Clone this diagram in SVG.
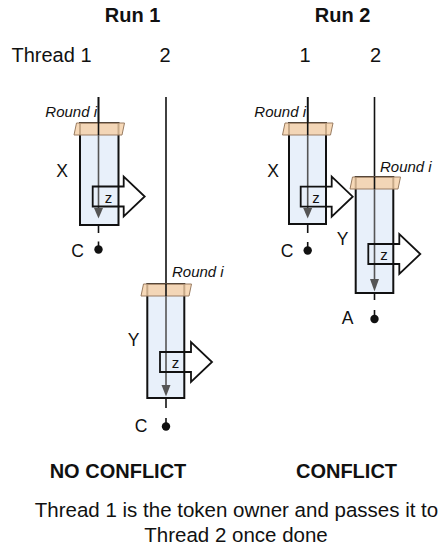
<svg xmlns="http://www.w3.org/2000/svg" width="445" height="548" viewBox="0 0 445 548">
  <style>
    text { font-family: "Liberation Sans", Arial, sans-serif; fill: #111; }
    .head { font-size: 20px; font-weight: bold; text-anchor: middle; }
    .lbl { font-size: 20px; }
    .var { font-size: 17.5px; text-anchor: middle; }
    .round { font-size: 15px; font-style: italic; }
    .zed { font-size: 15px; text-anchor: middle; }
    .note { font-size: 20.5px; text-anchor: middle; }
    .box { fill: #e8f0fa; stroke: #111; stroke-width: 2; }
    .lock { fill: #f5cfa6; fill-opacity: 0.8; stroke: #9a7d62; stroke-width: 1; }
    .thread { stroke: #111; stroke-width: 1.6; fill: none; }
    .inner { stroke: #555; stroke-width: 1.6; fill: none; }
    .tip { fill: #555; }
    .write { fill: none; stroke: #111; stroke-width: 1.8; stroke-linejoin: miter; }
    .end { fill: #111; }
  </style>
  <defs>
    <!-- block arrow for a shared write, origin at shaft left / mid-height -->
    <path id="wr" class="write" d="M0,-10 H31 V-20 L52,0 L31,20 V10 H0 Z"/>
    <!-- round marker sitting on top of a task box, origin at box top centre -->
    <polygon id="lk" class="lock" points="-25,0 -22.5,-12 25.5,-12 23,0"/>
  </defs>

  <!-- headings -->
  <text class="head" x="132.5" y="21.5">Run 1</text>
  <text class="head" x="342.5" y="21.5">Run 2</text>
  <text class="lbl" x="11.5" y="61.5">Thread 1</text>
  <text class="lbl" x="165" y="61.5" text-anchor="middle">2</text>
  <text class="lbl" x="305" y="61.5" text-anchor="middle">1</text>
  <text class="lbl" x="375.5" y="61.5" text-anchor="middle">2</text>

  <!-- thread timelines above each task -->
  <g id="connectors">
    <line class="thread" x1="98.5" y1="97" x2="98.5" y2="135"/>
    <line class="thread" x1="166" y1="97" x2="166" y2="296"/>
    <line class="thread" x1="307.7" y1="97" x2="307.7" y2="135"/>
    <line class="thread" x1="374.5" y1="97" x2="374.5" y2="189"/>
  </g>

  <!-- Run 1, thread 1: task X -->
  <g id="run1-x">
    <rect class="box" x="80" y="123" width="38.5" height="102"/>
    <use href="#lk" x="99" y="135"/>
    <line class="thread" x1="98.5" y1="97" x2="98.5" y2="135"/>
    <line class="inner" x1="98.5" y1="135" x2="98.5" y2="210"/>
    <polygon class="tip" points="94,208 103,208 98.5,218.5"/>
    <use href="#wr" x="92.7" y="196.5"/>
    <text class="zed" x="108.5" y="202.5">z</text>
    <line class="thread" x1="98.5" y1="225" x2="98.5" y2="233"/>
    <line class="thread" x1="98.5" y1="241.5" x2="98.5" y2="249"/>
    <circle class="end" cx="98.5" cy="249.5" r="4.2"/>
    <text class="round" x="97" y="117" text-anchor="end">Round i</text>
    <text class="var" x="62" y="177">X</text>
    <text class="var" x="77.5" y="256.5">C</text>
  </g>

  <!-- Run 1, thread 2: task Y -->
  <g id="run1-y">
    <rect class="box" x="147.3" y="284" width="37" height="114"/>
    <use href="#lk" x="166" y="296"/>
    <line class="thread" x1="166" y1="284" x2="166" y2="296"/>
    <line class="inner" x1="166" y1="296" x2="166" y2="388"/>
    <polygon class="tip" points="161.5,385 170.5,385 166,396.5"/>
    <use href="#wr" x="160" y="362"/>
    <text class="zed" x="175.5" y="368">z</text>
    <line class="thread" x1="166" y1="398" x2="166" y2="408"/>
    <line class="thread" x1="166" y1="418" x2="166" y2="426"/>
    <circle class="end" cx="166" cy="426.5" r="4.2"/>
    <text class="round" x="172" y="276.5">Round i</text>
    <text class="var" x="133.5" y="346">Y</text>
    <text class="var" x="141" y="431.5">C</text>
  </g>

  <!-- Run 2, thread 1: task X -->
  <g id="run2-x">
    <rect class="box" x="289" y="123" width="37" height="101"/>
    <use href="#lk" x="307.5" y="135"/>
    <line class="thread" x1="307.7" y1="97" x2="307.7" y2="135"/>
    <line class="inner" x1="307.7" y1="135" x2="307.7" y2="210"/>
    <polygon class="tip" points="303.2,208 312.2,208 307.7,218.5"/>
    <use href="#wr" x="300.7" y="196.7"/>
    <text class="zed" x="316" y="202.7">z</text>
    <line class="thread" x1="307.7" y1="224" x2="307.7" y2="233"/>
    <line class="thread" x1="307.7" y1="242" x2="307.7" y2="250"/>
    <circle class="end" cx="307.7" cy="250.5" r="4.2"/>
    <text class="round" x="306" y="117" text-anchor="end">Round i</text>
    <text class="var" x="273" y="177">X</text>
    <text class="var" x="287" y="257">C</text>
  </g>

  <!-- Run 2, thread 2: task Y -->
  <g id="run2-y">
    <rect class="box" x="355.7" y="177" width="37.6" height="116"/>
    <use href="#lk" x="375" y="189"/>
    <line class="thread" x1="374.5" y1="177" x2="374.5" y2="189"/>
    <line class="inner" x1="374.5" y1="189" x2="374.5" y2="282"/>
    <polygon class="tip" points="370,279 379,279 374.5,291.5"/>
    <use href="#wr" x="368.3" y="254"/>
    <text class="zed" x="384" y="260">z</text>
    <line class="thread" x1="374.5" y1="293" x2="374.5" y2="300"/>
    <line class="thread" x1="374.5" y1="310" x2="374.5" y2="318.5"/>
    <circle class="end" cx="374.5" cy="319" r="4.2"/>
    <text class="round" x="380" y="171.5">Round i</text>
    <text class="var" x="342.5" y="245">Y</text>
    <text class="var" x="347.5" y="323.5">A</text>
  </g>

  <!-- outcomes -->
  <text class="head" x="118" y="478">NO CONFLICT</text>
  <text class="head" x="346.5" y="478">CONFLICT</text>
  <text class="note" x="236.5" y="516.5">Thread 1 is the token owner and passes it to</text>
  <text class="note" x="236" y="542">Thread 2 once done</text>
</svg>
